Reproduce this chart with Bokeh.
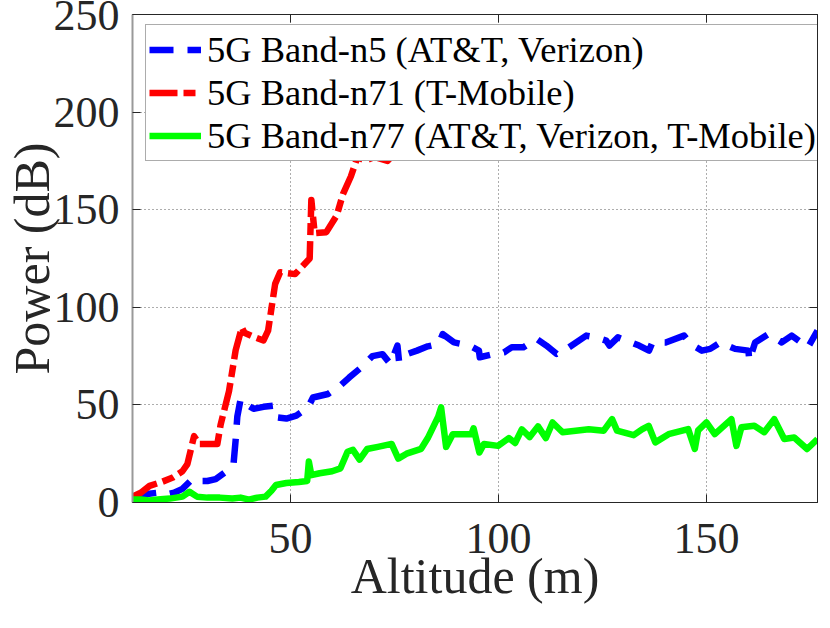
from bokeh.plotting import figure
from bokeh.models import Range1d, LinearAxis, FixedTicker, Legend, LegendItem
from bokeh.embed import file_html
from bokeh.resources import INLINE

# ---- data ----
n5_alt = [12, 14, 16, 18, 20, 22, 24, 26.4, 28, 30, 32, 35.2, 36.3, 36.8, 37.2, 38, 39.5, 41.1,
          43.5, 45.9, 46.7, 49, 51.4, 54.2, 55.4, 59, 62, 64.1, 66.9, 69.7, 72.1, 74, 75.7, 76.1,
          78, 80.4, 83, 85.6, 86.6, 89.3, 93, 95.3, 95.5, 98.9, 101.3, 103.2, 106, 109.2, 111.5,
          114, 116.4, 121.1, 123.5, 125.9, 126.7, 128.7, 133.8, 136.2, 137, 140.2, 144.6, 146.2,
          148.9, 150.9, 153.3, 156.9, 160.1, 160.3, 161.7, 164.9, 168.1, 170.5, 174.4, 176.7]
n5_pow = [3, 4, 4.5, 5, 4, 5, 7, 12, 11, 11, 12, 17, 20, 32, 44, 53, 50, 48,
          49, 49.6, 43.6, 43, 44.5, 48.7, 53.8, 55.6, 60, 64, 69, 75, 76, 71, 80.4, 72,
          76, 77.8, 80, 81.2, 86.3, 82, 80.4, 77.8, 74.4, 76.1, 76.9, 79.5, 79.5, 83.8, 80.4,
          76.1, 78.7, 85.5, 84.6, 82.9, 80.4, 84.6, 80.4, 77.8, 82, 82, 85.5, 81.2,
          77.8, 78.7, 82, 78.7, 77.8, 72.7, 82, 86.3, 82, 85.5, 79.5, 88]

n71_alt = [12, 14, 16.1, 19, 21.7, 24, 25.2, 26.8, 28, 30, 32.4, 33.2, 35.2, 36.8, 38.3, 38.9,
           41, 43.5, 44.6, 46.3, 47.5, 51.1, 54.6, 55, 55.8, 58.6, 61.1, 62.6, 64.5, 66.1, 68,
           70.1, 73.3, 76, 80, 90, 100, 110, 120, 130, 140, 150, 160, 170, 176.7]
n71_pow = [3, 5, 8.5, 10.5, 12.8, 16, 19.7, 34, 30, 30, 30, 40, 57, 78, 89.7, 87,
           85, 83, 88, 112, 118, 117, 125, 155, 138, 138.5, 147, 158, 167, 177, 175,
           177, 175, 181, 185, 190, 195, 200, 205, 210, 214, 218, 222, 226, 227]

n77_alt = [12, 14, 16, 18, 21, 24, 25.7, 27.5, 30, 33, 36, 38, 40, 42, 44, 45.4, 46.5, 49, 52,
           54, 54.4, 55, 57, 60, 62, 63.7, 65, 66.6, 68.4, 71, 74.3, 75.9, 77.9, 81.4, 83, 85.5,
           86.2, 87.4, 89, 93.5, 94, 95.4, 96.5, 99.9, 102.5, 104, 105.6, 107.5, 109.5, 111.4,
           113, 115.4, 121.7, 125.3, 127.3, 128.5, 132.5, 134.5, 136.1, 137.7, 140.9, 145.6,
           147.2, 148, 150, 152, 156, 157.2, 158.4, 161.5, 163.9, 166.3, 168.7, 171.1, 174.2, 176.7]
n77_pow = [1.5, 1.5, 1, 1.5, 2, 3, 5.5, 3, 2.5, 2.5, 2, 2.5, 1.5, 2.5, 3, 6, 9, 10, 10.5,
           11, 21, 14, 15, 16, 17.5, 26, 27, 22, 27.4, 28.5, 30, 22.5, 25, 27.5, 33, 44,
           48.7, 28.5, 35, 35, 38, 25.6, 30, 29, 33, 30.5, 37.5, 33.5, 39, 33,
           41, 36, 37.5, 36.8, 42.7, 36.8, 34.5, 37.5, 39.3, 30.8, 35, 37.6,
           27.4, 37, 41, 35, 42.7, 29, 38.5, 39.3, 36, 42.7, 32.5, 33.3, 27.4, 32.5]

labels = ["5G Band-n5 (AT&T, Verizon)", "5G Band-n71 (T-Mobile)",
          "5G Band-n77 (AT&T, Verizon, T-Mobile)"]
x_ticks = [50, 100, 150]
y_ticks = [0, 50, 100, 150, 200, 250]

FONT = "Liberation Serif"
TXT = "#262626"

p = figure(width=822, height=612, output_backend="svg", toolbar_location=None,
           x_range=Range1d(12, 176.7), y_range=Range1d(0, 250),
           min_border_left=125, min_border_right=5, min_border_top=14, min_border_bottom=110)
p.outline_line_color = TXT
p.outline_line_width = 1

r1 = p.line(n5_alt, n5_pow, line_color="#0000ff", line_width=6.5, line_dash="24 14",
            line_join="round")
r2 = p.line(n71_alt, n71_pow, line_color="#ff0000", line_width=6.5, line_dash="28 6 12 6",
            line_join="round")
r3 = p.line(n77_alt, n77_pow, line_color="#00ff00", line_width=6.5, line_join="round")

for ax in (p.xaxis[0], p.yaxis[0]):
    ax.major_label_text_font = FONT
    ax.major_label_text_font_size = "44px"
    ax.major_label_text_color = TXT
    ax.axis_label_text_font = FONT
    ax.axis_label_text_font_size = "50px"
    ax.axis_label_text_font_style = "normal"
    ax.axis_label_text_color = TXT
    ax.major_tick_in = 8
    ax.major_tick_out = 0
    ax.minor_tick_in = 0
    ax.minor_tick_out = 0
    ax.major_tick_line_color = TXT

p.xaxis[0].ticker = FixedTicker(ticks=x_ticks)
p.yaxis[0].ticker = FixedTicker(ticks=y_ticks)
p.xaxis[0].axis_label = "Altitude (m)"
p.yaxis[0].axis_label = "Power (dB)"
p.xaxis[0].major_label_standoff = 21
p.yaxis[0].major_label_standoff = 13
p.xaxis[0].axis_label_standoff = -8
p.yaxis[0].axis_label_standoff = -9
p.xaxis[0].axis_line_color = TXT
p.yaxis[0].axis_line_color = "#999999"
p.yaxis[0].axis_line_width = 2

# mirrored ticks (top and right), no labels
for side, ticks in (("above", x_ticks), ("right", y_ticks)):
    ax = LinearAxis(ticker=FixedTicker(ticks=ticks), major_tick_in=8, major_tick_out=0,
                    minor_tick_in=0, minor_tick_out=0, major_label_text_font_size="1px",
                    major_label_text_color=None, major_label_standoff=0,
                    axis_line_color=TXT, major_tick_line_color=TXT)
    p.add_layout(ax, side)

for g in (p.xgrid[0], p.ygrid[0]):
    g.grid_line_color = "#333333"
    g.grid_line_alpha = 0.8
    g.grid_line_dash = "1 3"
    g.grid_line_width = 1
p.xgrid[0].ticker = FixedTicker(ticks=x_ticks)
p.ygrid[0].ticker = FixedTicker(ticks=y_ticks)

legend = Legend(items=[LegendItem(label=labels[0], renderers=[r1]),
                       LegendItem(label=labels[1], renderers=[r2]),
                       LegendItem(label=labels[2], renderers=[r3])],
                location=(13, 341))
legend.label_text_font = FONT
legend.label_text_font_size = "36.5px"
legend.label_text_color = "#000000"
legend.glyph_width = 52
legend.glyph_height = 39
legend.label_height = 39
legend.label_standoff = 6
legend.spacing = -1
legend.padding = 3
legend.margin = 0
legend.border_line_color = "#5a5a5a"
legend.border_line_width = 1
legend.background_fill_alpha = 1
p.add_layout(legend, "center")

open("out.html", "w").write(file_html(p, INLINE))
